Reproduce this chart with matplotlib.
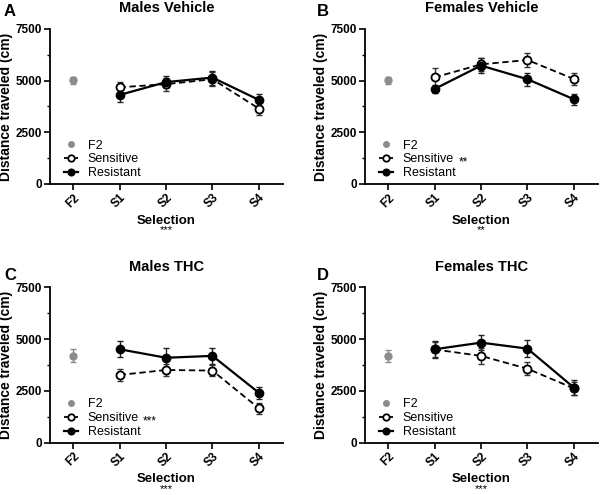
import matplotlib
matplotlib.use("Agg")
import matplotlib.pyplot as plt
from matplotlib.ticker import MultipleLocator

plt.rcParams['font.family'] = ['Liberation Sans', 'DejaVu Sans']

categories = ["F2", "S1", "S2", "S3", "S4"]

titles = ["Males Vehicle", "Females Vehicle", "Males THC", "Females THC"]
letters = ["A", "B", "C", "D"]

f2_mean = [5020, 5030, 4200, 4190]
f2_err = [180, 170, 300, 280]

sens_mean = [
    [4680, 4830, 5070, 3650],
    [5160, 5790, 6000, 5080],
    [3270, 3510, 3480, 1660],
    [4500, 4190, 3570, 2620],
]
sens_err = [
    [270, 320, 330, 300],
    [470, 330, 320, 270],
    [280, 290, 280, 280],
    [360, 400, 320, 300],
]
res_mean = [
    [4310, 4930, 5150, 4070],
    [4600, 5730, 5070, 4100],
    [4510, 4100, 4190, 2410],
    [4510, 4830, 4540, 2660],
]
res_err = [
    [320, 300, 340, 300],
    [180, 350, 310, 270],
    [390, 480, 380, 280],
    [400, 360, 400, 350],
]

legend_stars = ["", "**", "***", ""]
xlabel_stars = ["***", "**", "***", "***"]

fig = plt.figure(figsize=(6, 4.95), dpi=100)
W, H = 600, 495
ax_pos = [
    (50, 29, 233, 155),
    (365, 29, 233, 155),
    (50, 287.3, 233, 155.4),
    (365, 287.3, 233, 155.4),
]
letter_pos = [(4, 12), (317, 12), (4, 276), (317, 276)]
star_pos = [None, (459, 162), (143, 421), None]

for i in range(4):
    l, t, w, h = ax_pos[i]
    ax = fig.add_axes([l / W, 1 - (t + h) / H, w / W, h / H])
    xs = list(range(len(categories)))
    sx = xs[1:]
    # F2
    ax.errorbar([0], [f2_mean[i]], yerr=[f2_err[i]], fmt='o', color='#8c8c8c',
                ms=5, capsize=2.5, elinewidth=1.0, capthick=1.0, zorder=3)
    ax.errorbar(sx, sens_mean[i], yerr=sens_err[i], fmt='none', ecolor='#333333',
                capsize=2.5, elinewidth=1.0, capthick=1.0, zorder=2)
    ax.errorbar(sx, res_mean[i], yerr=res_err[i], fmt='none', ecolor='#222222',
                capsize=2.5, elinewidth=1.0, capthick=1.0, zorder=2)
    hs, = ax.plot(sx, sens_mean[i], linestyle=(0, (3.5, 2)), color='black', lw=1.3,
                  marker='o', ms=5.8, mfc='white', mec='black', mew=1.3, zorder=4)
    hr, = ax.plot(sx, res_mean[i], linestyle='-', color='black', lw=1.6,
                  marker='o', ms=6, mfc='black', mec='black', zorder=5)
    hf, = ax.plot([], [], linestyle='none', marker='o', ms=5, color='#8c8c8c')

    ax.set_xlim(-0.5, 4.52)
    ax.set_ylim(0, 7500)
    ax.set_xticks(xs)
    ax.set_xticklabels(categories, rotation=45, ha='right', rotation_mode='anchor',
                       fontweight='bold', fontsize=8.5)
    ax.yaxis.set_major_locator(MultipleLocator(2500))
    ax.yaxis.set_minor_locator(MultipleLocator(1250))
    for lab in ax.get_yticklabels():
        lab.set_fontweight('bold')
        lab.set_fontsize(8.5)
    ax.tick_params(axis='both', which='major', length=4, width=1.2, direction='out', pad=1.5)
    ax.tick_params(axis='y', which='minor', length=2.5, width=1.0)
    for s in ['top', 'right']:
        ax.spines[s].set_visible(False)
    for s in ['left', 'bottom']:
        ax.spines[s].set_linewidth(1.3)

    ax.set_title(titles[i], fontsize=10.5, fontweight='bold', pad=12)
    ax.set_ylabel("Distance traveled (cm)", fontsize=10, fontweight='bold', labelpad=2)
    ax.set_xlabel("Selection", fontsize=9.5, fontweight='bold', labelpad=3)

    leg = ax.legend([hf, hs, hr], ["F2", "Sensitive", "Resistant"], loc='lower left',
                    bbox_to_anchor=(0.06, 0.03), frameon=False, fontsize=9,
                    handlelength=1.1, handletextpad=0.8, labelspacing=0.15,
                    borderpad=0, borderaxespad=0, markerscale=0.8)

    fig.text(letter_pos[i][0] / W, 1 - letter_pos[i][1] / H, letters[i],
             fontsize=12, fontweight='bold', ha='left', va='center')
    cx = (l + w / 2) / W
    fig.text(cx, 1 - (t + h + 46) / H, xlabel_stars[i], fontsize=8, ha='center', va='center')
    if star_pos[i] is not None:
        fig.text(star_pos[i][0] / W, 1 - star_pos[i][1] / H, legend_stars[i],
                 fontsize=8.5, ha='left', va='center')

fig.savefig("out.png", dpi=100)
